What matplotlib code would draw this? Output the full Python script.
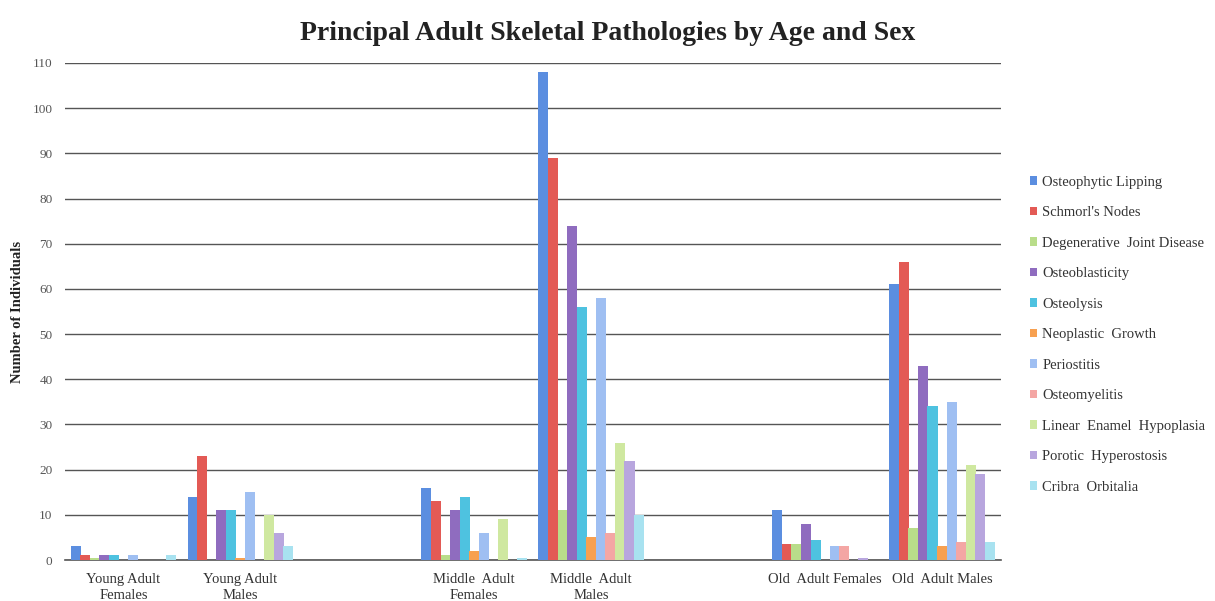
import numpy as np
import matplotlib
matplotlib.use("Agg")
import matplotlib.pyplot as plt

# === Daten ===
groups = ["Young Adult\nFemales", "Young Adult\nMales", "",
          "Middle  Adult\nFemales", "Middle  Adult\nMales", "",
          "Old  Adult Females", "Old  Adult Males"]

series = ["Osteophytic Lipping", "Schmorl's Nodes", "Degenerative  Joint Disease",
          "Osteoblasticity", "Osteolysis", "Neoplastic  Growth", "Periostitis",
          "Osteomyelitis", "Linear  Enamel  Hypoplasia", "Porotic  Hyperostosis",
          "Cribra  Orbitalia"]

# values per group (blank columns = 0)
young_f = [3, 1, 0.5, 1, 1, 0, 1, 0, 0, 0, 1]
young_m = [14, 23, 0, 11, 11, 0.5, 15, 0, 10, 6, 3]
middle_f = [16, 13, 1, 11, 14, 2, 6, 0, 9, 0, 0.5]
middle_m = [108, 89, 11, 74, 56, 5, 58, 6, 26, 22, 10]
old_f = [11, 3.5, 3.5, 8, 4.5, 0, 3, 3, 0, 0.5, 0]
old_m = [61, 66, 7, 43, 34, 3, 35, 4, 21, 19, 4]
blank = [0] * 11

values = np.array([young_f, young_m, blank, middle_f, middle_m, blank, old_f, old_m]).T

colors = ["#5b8ee0", "#e35a55", "#b9dd8a", "#8f6cbf", "#4ec2e0", "#f7a050",
          "#9fbff2", "#f4a6a4", "#cfe8a0", "#b8a6de", "#a8e2f0"]

# === Plot ===
fig = plt.figure(figsize=(12.15, 6.01), dpi=100)
ax = fig.add_axes([0.0535, 0.0682, 0.77, 0.827])

x = np.arange(len(groups))
n = len(series)
w = 0.9 / n
for i in range(n):
    pos = x - 0.45 + w * (i + 0.5)
    ax.bar(pos, values[i], width=w * 1.05, color=colors[i], label=series[i],
           edgecolor="none", zorder=3)

ax.set_xlim(-0.5, len(groups) - 0.5)
ax.set_ylim(0, 110)
ax.set_yticks(range(0, 111, 10))
ax.yaxis.grid(True, color="#555555", linewidth=1.0, zorder=1)
ax.tick_params(axis="y", length=0, labelsize=9.5, labelcolor="#555555", pad=9)
ax.tick_params(axis="x", length=0, labelsize=10.5, labelcolor="#333333", pad=9)
ax.set_xticks(x)
ax.set_xticklabels(groups, fontfamily="Liberation Serif", linespacing=1.3)
for lbl in ax.get_yticklabels():
    lbl.set_fontfamily("Liberation Serif")

for s in ["top", "right", "left"]:
    ax.spines[s].set_visible(False)
ax.spines["bottom"].set_color("#555555")
ax.spines["bottom"].set_linewidth(1.2)

ax.set_ylabel("Number of Individuals", fontfamily="Liberation Serif", fontweight="bold",
              fontsize=10.5, color="#222222")
ax.yaxis.set_label_coords(-0.044, 0.5)

fig.suptitle("Principal Adult Skeletal Pathologies by Age and Sex", x=0.5, y=0.965,
             fontfamily="Liberation Serif", fontweight="bold", fontsize=20, color="#222222")

leg = ax.legend(loc="upper left", bbox_to_anchor=(1.025, 0.785), frameon=False,
                prop={"family": "Liberation Serif", "size": 10.5},
                handlelength=0.5, handleheight=0.5, handletextpad=0.35,
                labelspacing=1.2, borderaxespad=0)
for t in leg.get_texts():
    t.set_color("#333333")

fig.savefig("out.png", dpi=100)
